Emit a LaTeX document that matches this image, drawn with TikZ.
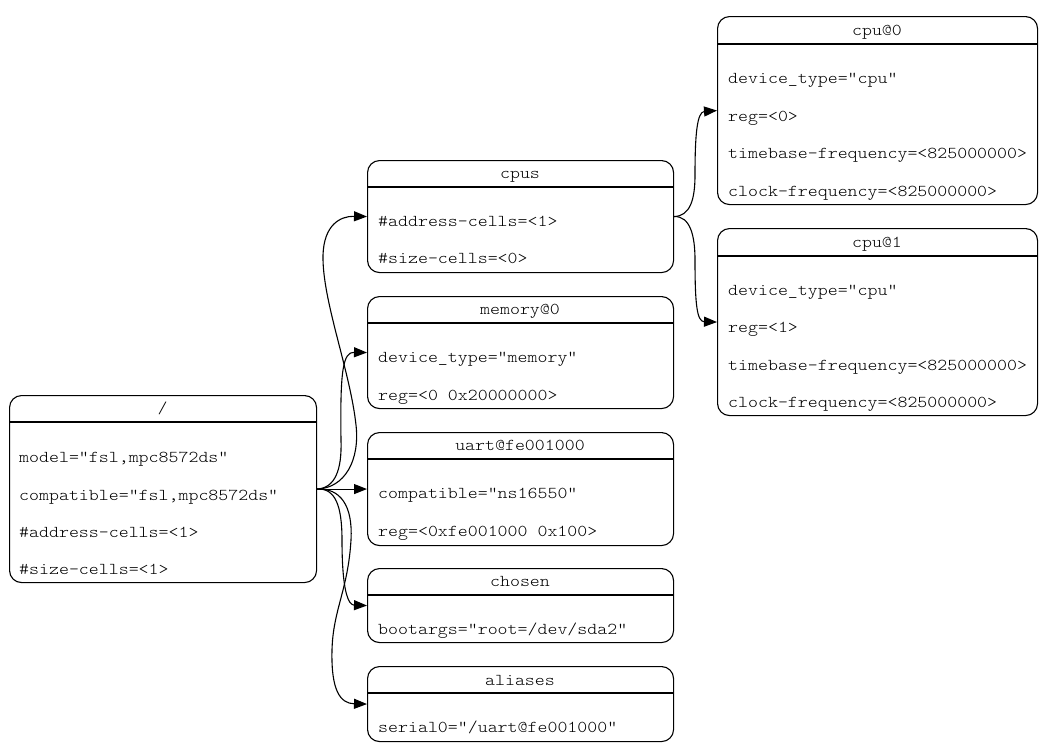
\documentclass[tikz,border=0pt]{standalone}
\usepackage{fontspec}
\newfontfamily\courfont{Latin Modern Mono Light}[FakeStretch=1.143]
\usetikzlibrary{arrows.meta}
\begin{document}
\begin{tikzpicture}[x=1pt,y=-1pt,
  box/.style={draw, rounded corners=12pt, line width=1.1pt, inner sep=0pt, anchor=north west},
  hdr/.style={line width=1.1pt},
  txt/.style={inner sep=0pt, font=\courfont\fontsize{16.6}{20}\selectfont},
  edge/.style={line width=1.1pt, -{Triangle[length=13pt,width=10pt]}}]
\useasboundingbox (0,0) rectangle (1052,753);
% boxes
\node[box, minimum width=307pt, minimum height=187pt] (root) at (9,395) {};
\node[box, minimum width=306pt, minimum height=112pt] (cpus) at (367,160) {};
\node[box, minimum width=306pt, minimum height=112pt] (mem) at (367,296) {};
\node[box, minimum width=306pt, minimum height=113pt] (uart) at (367,432) {};
\node[box, minimum width=306pt, minimum height=74pt] (chosen) at (367,568) {};
\node[box, minimum width=306pt, minimum height=75pt] (aliases) at (367,666) {};
\node[box, minimum width=320pt, minimum height=188pt] (cpu0) at (717,16) {};
\node[box, minimum width=320pt, minimum height=187pt] (cpu1) at (717,228) {};
% header lines
\draw[hdr] (root.west |- 0,422) -- (root.east |- 0,422);
\draw[hdr] (cpus.west |- 0,187) -- (cpus.east |- 0,187);
\draw[hdr] (mem.west |- 0,323) -- (mem.east |- 0,323);
\draw[hdr] (uart.west |- 0,459) -- (uart.east |- 0,459);
\draw[hdr] (chosen.west |- 0,595) -- (chosen.east |- 0,595);
\draw[hdr] (aliases.west |- 0,693) -- (aliases.east |- 0,693);
\draw[hdr] (cpu0.west |- 0,44) -- (cpu0.east |- 0,44);
\draw[hdr] (cpu1.west |- 0,256) -- (cpu1.east |- 0,256);
% titles
\node[txt, anchor=base] (troot) at (162.5,413.5) {/};
\node[txt, anchor=base] (tcpus) at (520,178.5) {cpus};
\node[txt, anchor=base] (tmem) at (520,314.5) {memory@0};
\node[txt, anchor=base] (tuart) at (520,450.5) {uart@fe001000};
\node[txt, anchor=base] (tchosen) at (520,586.5) {chosen};
\node[txt, anchor=base] (taliases) at (520,685.5) {aliases};
\node[txt, anchor=base] (tcpu0) at (877,35.5) {cpu@0};
\node[txt, anchor=base] (tcpu1) at (877,247) {cpu@1};
% properties
\node[txt, anchor=base west] (r1) at (19,462.5) {model="fsl,mpc8572ds"};
\node[txt, anchor=base west] (r2) at (19,500) {compatible="fsl,mpc8572ds"};
\node[txt, anchor=base west] (r3) at (19,537.5) {\#address-cells=<1>};
\node[txt, anchor=base west] (r4) at (19,574) {\#size-cells=<1>};
\node[txt, anchor=base west] (c1) at (378,226.5) {\#address-cells=<1>};
\node[txt, anchor=base west] (c2) at (378,263.5) {\#size-cells=<0>};
\node[txt, anchor=base west] (m1) at (378,362.5) {device\_type="memory"};
\node[txt, anchor=base west] (m2) at (378,400) {reg=<0 0x20000000>};
\node[txt, anchor=base west] (u1) at (378,498.5) {compatible="ns16550"};
\node[txt, anchor=base west] (u2) at (378,536) {reg=<0xfe001000 0x100>};
\node[txt, anchor=base west] (h1) at (378,634.5) {bootargs="root=/dev/sda2"};
\node[txt, anchor=base west] (a1) at (378,732.5) {serial0="/uart@fe001000"};
\node[txt, anchor=base west] (p01) at (728,83.5) {device\_type="cpu"};
\node[txt, anchor=base west] (p02) at (728,121) {reg=<0>};
\node[txt, anchor=base west] (p03) at (728,158.5) {timebase-frequency=<825000000>};
\node[txt, anchor=base west] (p04) at (728,196) {clock-frequency=<825000000>};
\node[txt, anchor=base west] (p11) at (728,295) {device\_type="cpu"};
\node[txt, anchor=base west] (p12) at (728,332.5) {reg=<1>};
\node[txt, anchor=base west] (p13) at (728,370) {timebase-frequency=<825000000>};
\node[txt, anchor=base west] (p14) at (728,407.5) {clock-frequency=<825000000>};
% edges
\draw[edge] (root.east) .. controls (345,488) and (360,460) .. (356,425)
   .. controls (350,370) and (322,300) .. (323,255)
   .. controls (324,225) and (340,216) .. (cpus.west);
\draw[edge] (root.east) .. controls (335,488) and (342,470) .. (341,440)
   .. controls (340,370) and (343,352) .. (mem.west);
\draw[edge] (root.east) -- (uart.west);
\draw[edge] (root.east) .. controls (335,488) and (342,505) .. (342,540)
   .. controls (342,590) and (348,605) .. (chosen.west);
\draw[edge] (root.east) .. controls (340,488) and (353,505) .. (351,540)
   .. controls (348,590) and (333,610) .. (332,650)
   .. controls (331,690) and (340,703.5) .. (aliases.west);
\draw[edge] (cpus.east) .. controls (690,216) and (695,200) .. (695,175)
   .. controls (695,135) and (697,112) .. (cpu0.west);
\draw[edge] (cpus.east) .. controls (690,216) and (695,235) .. (695,260)
   .. controls (695,305) and (697,321.5) .. (cpu1.west);
\end{tikzpicture}
\end{document}
